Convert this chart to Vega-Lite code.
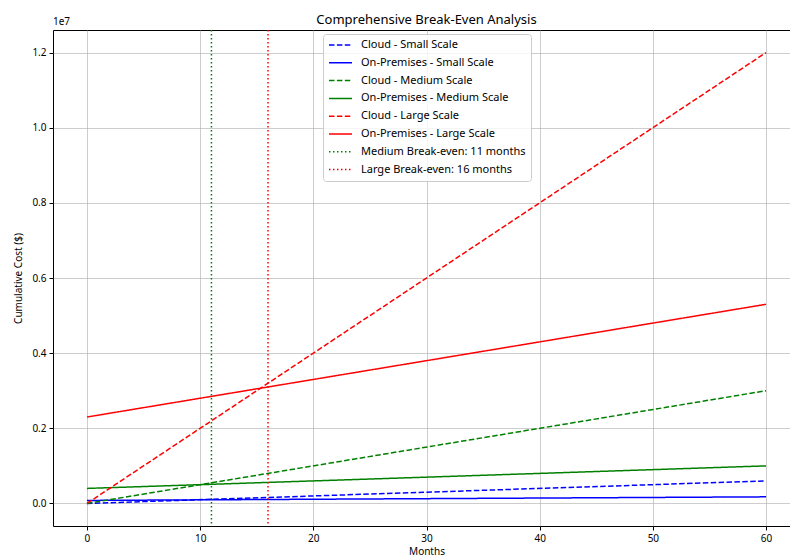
{
  "$schema": "https://vega.github.io/schema/vega-lite/v6.json",
  "autosize": {"type": "none"},
  "padding": {"left": 53, "top": 30, "right": 0, "bottom": 33},
  "width": 747,
  "height": 496,
  "title": {"text": "Comprehensive Break-Even Analysis", "font": "Noto Sans", "fontSize": 13, "fontWeight": "normal", "color": "#000", "offset": 6, "dy": 16},
  "config": {
    "view": {"stroke": "#000", "strokeWidth": 1},
    "axis": {"labelFont": "Noto Sans", "titleFont": "Noto Sans", "labelFontSize": 10, "titleFontSize": 10, "titleFontWeight": "normal", "labelColor": "#000", "titleColor": "#000", "domain": false, "tickColor": "#000", "tickSize": 4, "gridColor": "#b0b0b0", "gridOpacity": 0.8, "gridWidth": 0.8, "labelPadding": 3},
    "legend": {"orient": "none", "legendX": 270, "legendY": 4, "labelFont": "Noto Sans", "labelFontSize": 11, "labelLimit": 300, "labelColor": "#000", "symbolType": "stroke", "symbolSize": 529, "symbolStrokeWidth": 1.5, "clipHeight": 12, "rowPadding": 5.8, "padding": 5, "fillColor": "rgba(255,255,255,0.8)", "strokeColor": "#cccccc", "cornerRadius": 3, "labelOffset": 8}
  },
  "datasets": {
    "lines": [
      {"series": "Cloud - Small Scale", "month": 0, "cost": 0},
      {"series": "Cloud - Small Scale", "month": 60, "cost": 600000},
      {"series": "On-Premises - Small Scale", "month": 0, "cost": 80000},
      {"series": "On-Premises - Small Scale", "month": 60, "cost": 176000},
      {"series": "Cloud - Medium Scale", "month": 0, "cost": 0},
      {"series": "Cloud - Medium Scale", "month": 60, "cost": 3000000},
      {"series": "On-Premises - Medium Scale", "month": 0, "cost": 400000},
      {"series": "On-Premises - Medium Scale", "month": 60, "cost": 1000000},
      {"series": "Cloud - Large Scale", "month": 0, "cost": 0},
      {"series": "Cloud - Large Scale", "month": 60, "cost": 12000000},
      {"series": "On-Premises - Large Scale", "month": 0, "cost": 2300000},
      {"series": "On-Premises - Large Scale", "month": 60, "cost": 5300000}
    ],
    "rules": [
      {"series": "Medium Break-even: 11 months", "month": 11},
      {"series": "Large Break-even: 16 months", "month": 16}
    ],
    "exp": [{"label": "1e7"}]
  },
  "layer": [
    {
      "data": {"name": "lines"},
      "mark": {"type": "line", "strokeWidth": 1.5},
      "encoding": {
        "x": {"field": "month", "type": "quantitative", "scale": {"domain": [-3, 63], "nice": false, "zero": false}, "axis": {"title": "Months", "values": [0, 10, 20, 30, 40, 50, 60], "titlePadding": 3}},
        "y": {"field": "cost", "type": "quantitative", "scale": {"domain": [-600000, 12600000], "nice": false, "zero": false}, "axis": {"title": "Cumulative Cost ($)", "values": [0, 2000000, 4000000, 6000000, 8000000, 10000000, 12000000], "labelExpr": "format(datum.value/1e7, '.1f')", "titlePadding": 8}},
        "color": {"field": "series", "type": "nominal", "scale": {"domain": ["Cloud - Small Scale", "On-Premises - Small Scale", "Cloud - Medium Scale", "On-Premises - Medium Scale", "Cloud - Large Scale", "On-Premises - Large Scale", "Medium Break-even: 11 months", "Large Break-even: 16 months"], "range": ["#0000ff", "#0000ff", "#008000", "#008000", "#ff0000", "#ff0000", "#008000", "#ff0000"]}, "legend": {"title": null}},
        "strokeDash": {"field": "series", "type": "nominal", "scale": {"domain": ["Cloud - Small Scale", "On-Premises - Small Scale", "Cloud - Medium Scale", "On-Premises - Medium Scale", "Cloud - Large Scale", "On-Premises - Large Scale", "Medium Break-even: 11 months", "Large Break-even: 16 months"], "range": [[5.5, 2.4], [1, 0], [5.5, 2.4], [1, 0], [5.5, 2.4], [1, 0], [1.5, 2.5], [1.5, 2.5]]}, "legend": {"title": null}}
      }
    },
    {
      "data": {"name": "rules"},
      "mark": {"type": "rule", "strokeWidth": 1.5},
      "encoding": {
        "x": {"field": "month", "type": "quantitative"},
        "color": {"field": "series", "type": "nominal"},
        "strokeDash": {"field": "series", "type": "nominal"}
      }
    },
    {
      "data": {"name": "exp"},
      "mark": {"type": "text", "align": "left", "baseline": "bottom", "dy": -3, "font": "Noto Sans", "fontSize": 10, "color": "#000"},
      "encoding": {
        "x": {"datum": -3},
        "y": {"datum": 12600000},
        "text": {"field": "label"}
      }
    }
  ],
  "resolve": {"scale": {"color": "shared", "strokeDash": "shared"}}
}
